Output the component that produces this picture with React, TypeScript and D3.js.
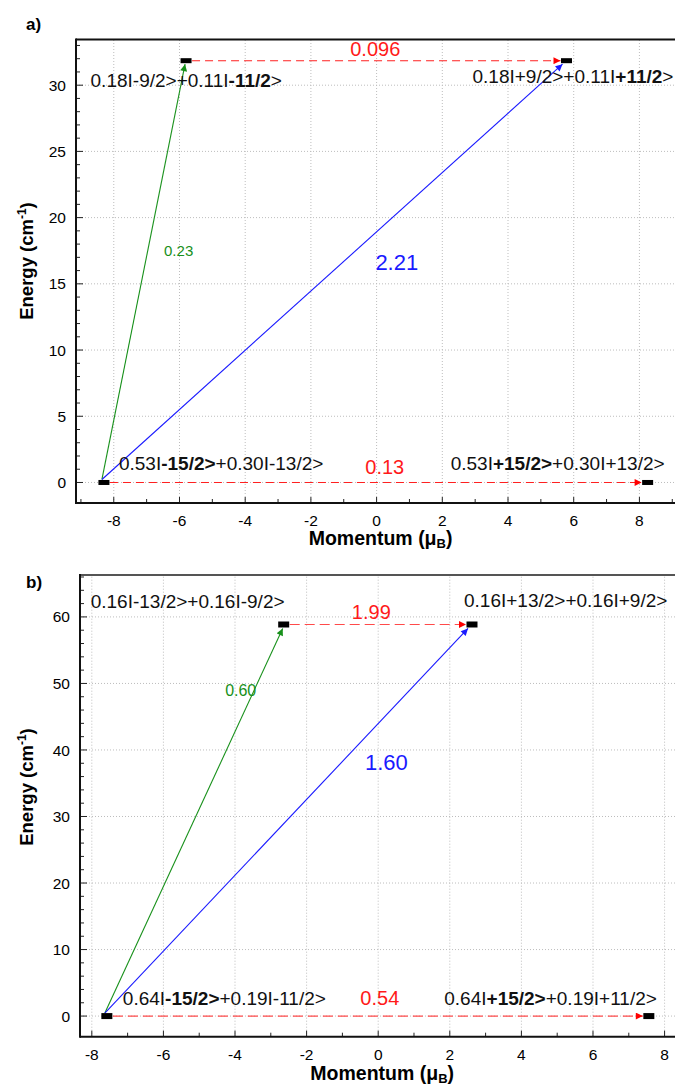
import * as d3 from "d3";
import React from "react";

const W = 675;
const H = 1086;
const FONT = "'Liberation Sans', Arial, sans-serif";

// panel a) levels: momentum (muB) and energy (cm-1)
const momentA = [-8.3, 8.25, -5.8, 5.78];
const energyA = [0, 0, 31.85, 31.85];
const statesA = [
  "0.53I**-15/2>**+0.30I-13/2>",
  "0.53I**+15/2>**+0.30I+13/2>",
  "0.18I-9/2>+0.11I**-11/2**>",
  "0.18I+9/2>+0.11I**+11/2**>",
];
const transFromA = [2, 0, 0, 0];
const transToA = [3, 1, 2, 3];
const transValueA = ["0.096", "0.13", "0.23", "2.21"];
const transKindA = ["qtm", "qtm", "green", "blue"];
const xTicksA = [-8, -6, -4, -2, 0, 2, 4, 6, 8];
const yTicksA = [0, 5, 10, 15, 20, 25, 30];

// panel b)
const momentB = [-7.58, 7.56, -2.64, 2.62];
const energyB = [0, 0, 58.86, 58.86];
const statesB = [
  "0.64I**-15/2>**+0.19I-11/2>",
  "0.64I**+15/2>**+0.19I+11/2>",
  "0.16I-13/2>+0.16I-9/2>",
  "0.16I+13/2>+0.16I+9/2>",
];
const transFromB = [2, 0, 0, 0];
const transToB = [3, 1, 2, 3];
const transValueB = ["1.99", "0.54", "0.60", "1.60"];
const transKindB = ["qtm", "qtm", "green", "blue"];
const xTicksB = [-8, -6, -4, -2, 0, 2, 4, 6, 8];
const yTicksB = [0, 10, 20, 30, 40, 50, 60];

const COLORS: Record<string, string> = { qtm: "#ff1a1a", green: "#17901a", blue: "#1a1aff" };

function Rich({ s, ...rest }: any) {
  const parts = s.split("**");
  return (
    <text {...rest}>
      {parts.map((p: string, i: number) => (
        <tspan key={i} fontWeight={i % 2 ? "bold" : "normal"}>{p}</tspan>
      ))}
    </text>
  );
}

function Panel(props: any) {
  const { id, moment, energy, states, from, to, values, kinds, xTicks, yTicks, xDom, xRange, yDom, yRange, yMinor, stateOff, transOff, letterY, yTitleY, xTitleY, topStroke, dash, qtmColor, rectH } = props;
  const x = d3.scaleLinear().domain(xDom).range(xRange);
  const y = d3.scaleLinear().domain(yDom).range(yRange);
  const left = xRange[0];
  const bottom = yRange[0];
  const top = yRange[1];
  const minorX = d3.range(Math.ceil(xDom[0]), xDom[1], 1);
  const minorY = d3.range(0, yDom[1], yMinor);

  const arrows = from.map((f: number, i: number) => {
    const t = to[i];
    const kind = kinds[i];
    const x1 = x(moment[f]), y1 = y(energy[f]);
    const x2 = x(moment[t]), y2 = y(energy[t]);
    let s, e;
    if (kind === "qtm") {
      s = [x1 + 6, y1];
      e = [x2 - 6, y2];
    } else if (kind === "green") {
      s = [x1 - 2, y1 - 3];
      e = [x2 - 1, y2 + rectH / 2 + 1];
    } else {
      s = [x1 - 2, y1 - 3];
      e = [x2 - 4, y2 + rectH / 2 + 1];
    }
    const o = transOff[i];
    const lx = s[0] + (e[0] - s[0]) * o.t + o.dx;
    const ly = s[1] + (e[1] - s[1]) * o.t + o.dy;
    return { s, e, kind, lx, ly, label: values[i], size: o.size };
  });

  return (
    <g fontFamily={FONT}>
      <defs>
        {["qtm", "green", "blue"].map((k) => (
          <marker key={k} id={`${id}-${k}`} viewBox="0 0 10 10" refX="10" refY="5" markerWidth="9" markerHeight="7" markerUnits="userSpaceOnUse" orient="auto">
            <path d="M0,0 L10,5 L0,10 Z" fill={k === "qtm" ? "#ff0000" : COLORS[k]} />
          </marker>
        ))}
      </defs>
      {/* grid */}
      {xTicks.map((v: number) => (
        <line key={"gx" + v} x1={x(v)} x2={x(v)} y1={bottom} y2={top} stroke="#bdbdbd" strokeDasharray="1,2" />
      ))}
      {yTicks.map((v: number) => (
        <line key={"gy" + v} x1={left} x2={W} y1={y(v)} y2={y(v)} stroke="#bdbdbd" strokeDasharray="1,2" />
      ))}
      {/* ticks */}
      {minorX.map((v: number) => (
        <line key={"tx" + v} x1={x(v)} x2={x(v)} y1={bottom} y2={bottom - (v % 2 === 0 ? 6 : 4)} stroke="#222" />
      ))}
      {minorY.map((v: number) => (
        <line key={"ty" + v} x1={left} x2={left + (yTicks.includes(v) ? 7 : 4)} y1={y(v)} y2={y(v)} stroke="#222" />
      ))}
      {xTicks.map((v: number) => (
        <text key={"lx" + v} x={x(v)} y={bottom + 23} textAnchor="middle" fontSize={15.5}>{v}</text>
      ))}
      {yTicks.map((v: number) => (
        <text key={"ly" + v} x={left - 10} y={y(v)} dy="0.36em" textAnchor="end" fontSize={15.5}>{v}</text>
      ))}
      {/* frame */}
      <line x1={left} x2={W} y1={top} y2={top} stroke={topStroke} strokeWidth={2} />
      <line x1={left} x2={W} y1={bottom} y2={bottom} stroke="#111" strokeWidth={2} />
      <line x1={left} x2={left} y1={top - 1} y2={bottom + 1} stroke="#111" strokeWidth={2} />
      {/* transitions */}
      {arrows.map((a: any, i: number) => (
        <g key={"ar" + i}>
          <line x1={a.s[0]} y1={a.s[1]} x2={a.e[0]} y2={a.e[1]}
            stroke={a.kind === "qtm" ? qtmColor : COLORS[a.kind]} strokeWidth={1.1}
            strokeDasharray={a.kind === "qtm" ? dash : null}
            markerEnd={`url(#${id}-${a.kind})`} />
          <text x={a.lx} y={a.ly} textAnchor="middle" fontSize={a.size} fill={COLORS[a.kind]}>{a.label}</text>
        </g>
      ))}
      {/* levels */}
      {moment.map((m: number, i: number) => (
        <rect key={"lv" + i} x={x(m) - 5.5} y={y(energy[i]) - rectH / 2} width={11} height={rectH} fill="#000" />
      ))}
      {states.map((s: string, i: number) => (
        <Rich key={"st" + i} s={s} x={x(moment[i]) + stateOff[i].dx} y={y(energy[i]) + stateOff[i].dy}
          textAnchor={stateOff[i].anchor} fontSize={19} fill="#111" />
      ))}
      {/* titles */}
      <text x={26} y={letterY} fontSize={17} fontWeight="bold">{id})</text>
      <text transform={`translate(33,${yTitleY}) rotate(-90)`} textAnchor="middle" fontSize={18.5} fontWeight="bold">
        Energy (cm<tspan dy={-7} fontSize={12}>-1</tspan><tspan dy={7}>)</tspan>
      </text>
      <text x={x(0) + 4} y={xTitleY} textAnchor="middle" fontSize={19.5} fontWeight="bold">
        Momentum (μ<tspan dy={3} fontSize={13}>B</tspan><tspan dy={-3}>)</tspan>
      </text>
    </g>
  );
}

export default function App() {
  return (
    <svg width={W} height={H} style={{ position: "absolute", left: 0, top: 0, background: "#fff" }}>
      <rect width={W} height={H} fill="#fff" />
      <Panel id="a" moment={momentA} energy={energyA} states={statesA}
        from={transFromA} to={transToA} values={transValueA} kinds={transKindA}
        xTicks={xTicksA} yTicks={yTicksA}
        xDom={[-9.15, 9.15]} xRange={[76, 677.2]}
        yDom={[-1.55, 33.45]} yRange={[503, 39.5]} yMinor={1}
        stateOff={[
          { dx: 15, dy: -12, anchor: "start" },
          { dx: 17, dy: -12.5, anchor: "end" },
          { dx: -95.5, dy: 26, anchor: "start" },
          { dx: -94, dy: 22, anchor: "start" },
        ]}
        transOff={[
          { t: 0.5, dx: -1, dy: -5, size: 20 },
          { t: 0.5, dx: 9, dy: -8.5, size: 20 },
          { t: 0.55, dx: 31, dy: 5, size: 15 },
          { t: 0.523, dx: 54, dy: 8, size: 22 },
        ]}
        letterY={30} yTitleY={261} xTitleY={545}
        topStroke="#111" dash="8,5" qtmColor="#ff2020" rectH={5} />
      <Panel id="b" moment={momentB} energy={energyB} states={statesB}
        from={transFromB} to={transToB} values={transValueB} kinds={transKindB}
        xTicks={xTicksB} yTicks={yTicksB}
        xDom={[-8.33, 8.33]} xRange={[80, 676.4]}
        yDom={[-3.1, 66.3]} yRange={[1036.7, 575]} yMinor={2}
        stateOff={[
          { dx: 16, dy: -11, anchor: "start" },
          { dx: 8, dy: -11, anchor: "end" },
          { dx: -193, dy: -16, anchor: "start" },
          { dx: -8, dy: -17.5, anchor: "start" },
        ]}
        transOff={[
          { t: 0.5, dx: -6.5, dy: -5, size: 20 },
          { t: 0.5, dx: 2, dy: -11, size: 20 },
          { t: 0.837, dx: -13, dy: 5, size: 16 },
          { t: 0.654, dx: 44, dy: 8, size: 22 },
        ]}
        letterY={588} yTitleY={787} xTitleY={1080}
        topStroke="#555" dash="10,5" qtmColor="#ff4a4a" rectH={6} />
    </svg>
  );
}
